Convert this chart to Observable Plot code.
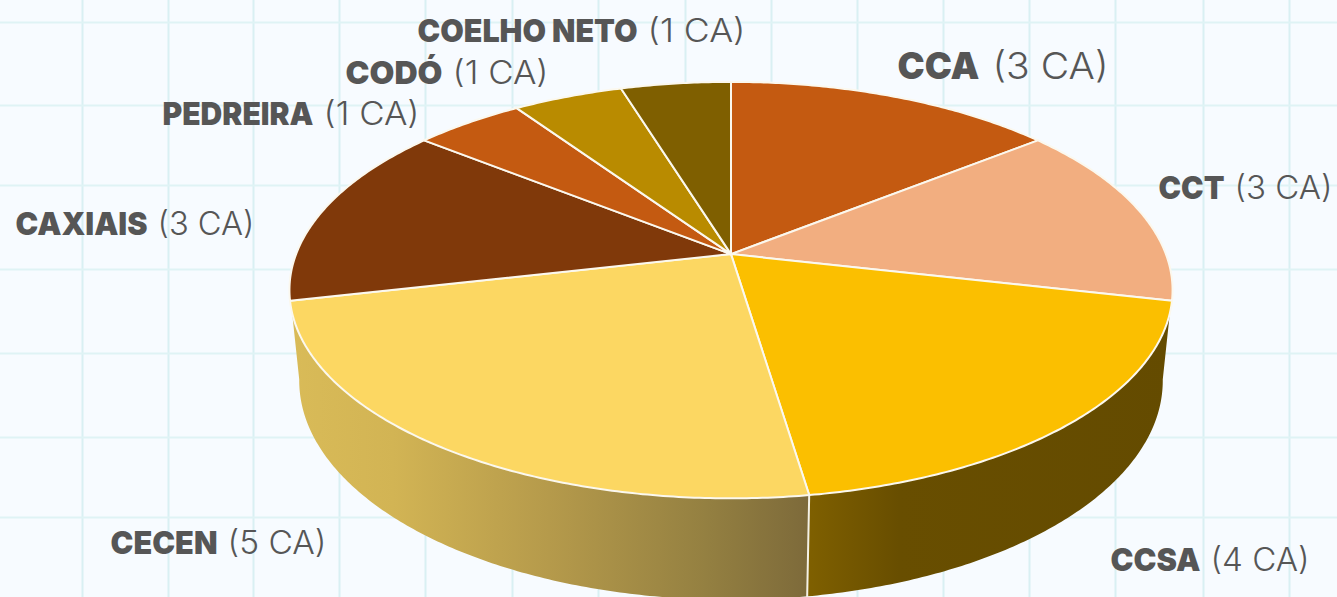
<!DOCTYPE html>
<html>
<head>
<meta charset="utf-8">
<script src="https://cdn.jsdelivr.net/npm/d3@7"></script>
<script src="https://cdn.jsdelivr.net/npm/@observablehq/plot@0.6"></script>
<style>
html,body{margin:0;padding:0;background:#f7fbff;overflow:hidden}
svg{display:block}
</style>
</head>
<body>
<div id="chart"></div>
<script>
// Data
const categories = ["CCA","CCT","CCSA","CECEN","CAXIAIS","PEDREIRA","CODÓ","COELHO NETO"];
const counts = [3,3,4,5,3,1,1,1];
const valueLabels = ["(3 CA)","(3 CA)","(4 CA)","(5 CA)","(3 CA)","(1 CA)","(1 CA)","(1 CA)"];
const colors = ["#c45a11","#f2ae80","#fbbf00","#fcd762","#80390a","#c45a11","#b98b00","#7f5f00"];

// Layout of the labels (separate from the data)
const nameStart = [897,1158,1110,110,15,162,345,417];
const nameWidth = [82,66,90,107,132,151,97,220];
const valueStart = [992,1234,1210,227,157,323,452,647];
const valueWidth = [116,98,99,99,97,96,96,98];
const labelBaseline = [78,198,570,553,234,124,83,41];
const labelSize = [37,32,32,32,32,32,32,32];
const gridX = [82,168,253,339,425,512,598,685,771,857,943,1029,1115,1203,1289];
const gridY = [22,105,185,269,353,437,517];

// Perspective projection of the pie disc
const cx = 730.5, cy = 253.6, Rx = 434.9, Ry = 202, k = 0.173, sink = 0.022, depth = 91.5;
const total = d3.sum(counts);
const ends = d3.cumsum(counts);
const angle = v => v / total * 2 * Math.PI;
function project(theta, low) {
  const X = Math.sin(theta), Y = -Math.cos(theta);
  const D = 1 - k * Y + (low ? sink : 0);
  return {x: cx + Rx * X / D, y: cy + (Ry * Y + (low ? depth : 0)) / D};
}
function arc(a0, a1, low) {
  const n = Math.max(4, Math.ceil(Math.abs(a1 - a0) / 0.01));
  return d3.range(n + 1).map(i => project(a0 + (a1 - a0) * i / n, low));
}
const slices = categories.flatMap((name, i) => {
  const a0 = angle(i ? ends[i - 1] : 0), a1 = angle(ends[i]);
  return [{x: cx, y: cy}, ...arc(a0, a1, false), {x: cx, y: cy}].map(p => ({...p, name}));
});
function wall(a0, a1) {
  return [...arc(a0, a1, false), ...arc(a1, a0, true)];
}
const aCCSA0 = angle(ends[1]), aCCSA1 = angle(ends[2]), aCECEN1 = angle(ends[3]);
const wallCCSA = wall(aCCSA0 - 0.06, aCCSA1);
const wallCECEN = wall(aCCSA1, aCECEN1 + 0.06);
const seam = [project(aCCSA1, false), project(aCCSA1, true)];

const defs = () => {
  const d = d3.create("svg:defs");
  const g1 = d.append("linearGradient").attr("id", "sideCecen");
  [[0,"#d9bb58"],[0.2,"#d2b454"],[0.5,"#b59a4b"],[0.8,"#948041"],[1,"#7d6a3a"]]
    .forEach(([o,c]) => g1.append("stop").attr("offset", o).attr("stop-color", c));
  const g2 = d.append("linearGradient").attr("id", "sideCcsa");
  [[0,"#7f6000"],[0.12,"#745700"],[0.25,"#684e00"],[1,"#644b00"]]
    .forEach(([o,c]) => g2.append("stop").attr("offset", o).attr("stop-color", c));
  return d.node();
};

const labels = categories.map((name, i) => ({
  name, value: valueLabels[i], base: labelBaseline[i], size: labelSize[i],
  ns: nameStart[i], nw: nameWidth[i], vs: valueStart[i], vw: valueWidth[i]
}));

const plot = Plot.plot({
  width: 1337, height: 597,
  margin: 0,
  style: {background: "#f7fbff"},
  x: {domain: [0, 1337], range: [0, 1337], axis: null},
  y: {domain: [0, 597], range: [0, 597], axis: null},
  color: {domain: categories, range: colors},
  marks: [
    defs,
    Plot.ruleX(gridX, {stroke: "#d9f0f3", strokeWidth: 2}),
    Plot.ruleY(gridY, {stroke: "#dff3f5", strokeWidth: 2}),
    Plot.line(wallCECEN, {x: "x", y: "y", fill: "url(#sideCecen)", stroke: "none"}),
    Plot.line(wallCCSA, {x: "x", y: "y", fill: "url(#sideCcsa)", stroke: "none"}),
    Plot.line(seam, {x: "x", y: "y", stroke: "#f4f1e6", strokeWidth: 2}),
    Plot.line(slices, {x: "x", y: "y", z: "name", fill: "name", stroke: "#fbf8ee", strokeWidth: 2, strokeLinejoin: "round"}),
    Plot.text(labels, {x: "ns", y: "base", text: "name", textAnchor: "start", lineAnchor: "bottom",
      fontSize: "size", fontWeight: 900, fill: "#565656", fontFamily: "Inter"}),
    Plot.text(labels, {x: "vs", y: "base", text: "value", textAnchor: "start", lineAnchor: "bottom",
      fontSize: "size", fontWeight: 300, fill: "#565656", fontFamily: "Inter"})
  ]
});
// fit each label's run to its measured width
const textGroups = plot.querySelectorAll('g[aria-label="text"]');
textGroups.forEach((g, gi) => {
  g.querySelectorAll("text").forEach((t, i) => {
    t.setAttribute("textLength", gi === 0 ? nameWidth[i] : valueWidth[i]);
    t.setAttribute("lengthAdjust", "spacingAndGlyphs");
  });
});
document.getElementById("chart").append(plot);
</script>
</body>
</html>
